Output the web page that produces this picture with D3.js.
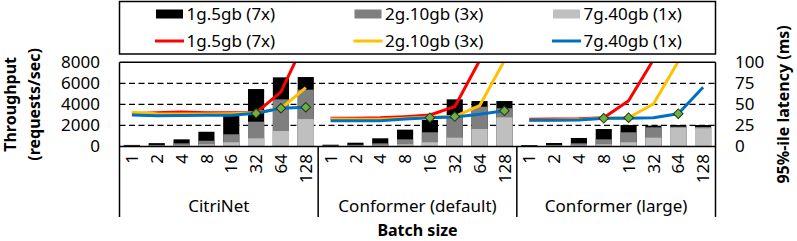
<!DOCTYPE html>
<html>
<head>
<meta charset="utf-8">
<script src="https://cdn.jsdelivr.net/npm/d3@7"></script>
<style>
  body { margin: 0; background: #fff; }
  svg text { font-family: "Noto Sans", sans-serif; fill: #000; }
</style>
</head>
<body>
<div id="chart"></div>
<script>
// data
var groups = ['CitriNet', 'Conformer (default)', 'Conformer (large)'];
var batch_sizes = ['1', '2', '4', '8', '16', '32', '64', '128'];
var series_names = ['1g.5gb (7x)', '2g.10gb (3x)', '7g.40gb (1x)'];

// throughput (requests/sec), 8 batch sizes per group, groups in order
var tput_1g = [150, 320, 680, 1400, 2900, 5460, 6570, 6600,
               170, 360, 780, 1600, 2520, 4480, 4320, 4320,
               140, 330, 810, 1660, 2040, 1980, 2040, 2040];
var tput_2g = [80, 150, 300, 550, 1160, 2360, 4480, 5400,
               90, 160, 300, 680, 1350, 3000, 3780, 3630,
               80, 150, 300, 680, 1350, 1820, 1880, 1850];
var tput_7g = [40, 60, 120, 210, 400, 780, 1470, 2610,
               40, 60, 100, 210, 400, 840, 1660, 2770,
               40, 60, 100, 210, 400, 840, 1790, 1730];

// 95%-ile latency (ms)
var lat_1g = [39, 40, 41, 40, 40, 40, 65, 127,
              33.5, 33.5, 34, 35.4, 37.4, 47.3, 102, 160,
              32.3, 32.8, 33, 34.2, 54.4, 103, 170, 240];
var lat_2g = [40.6, 39, 38.5, 38.5, 39, 40, 45, 70,
              32.7, 32.4, 32.4, 33.5, 35, 35.5, 48.5, 102,
              31.2, 31.5, 32, 33.5, 34.2, 50.5, 101, 160];
var lat_7g = [37.4, 36.5, 36.8, 37, 37, 39.4, 45.4, 46.6,
              30.7, 30.7, 30.7, 32.7, 34.2, 35, 38.2, 42.5,
              31.1, 31.1, 31.5, 33.5, 33.5, 34.2, 39, 70.3];

// marked configurations: [category index, latency]
var picks = [[5, 39.4], [6, 45.4], [7, 46.6],
             [12, 34.2], [13, 35.5], [15, 42.5],
             [19, 33.5], [20, 34.2], [22, 39]];

var bar_colors = ['#000000', '#7f7f7f', '#bfbfbf'];
var line_colors = ['#ff0000', '#ffc000', '#0070c0'];

var chart_width = 797;
var chart_height = 241;
var left = 119.5, right = 715.5, top_y = 62.3, bottom_y = 146.5;

var svg = d3.select('#chart')
    .append('svg')
    .attr('width', chart_width)
    .attr('height', chart_height);

var n_cat = groups.length * batch_sizes.length;
var x_scale = d3.scaleBand()
    .domain(d3.range(n_cat))
    .range([left, right])
    .paddingInner(0.35)
    .paddingOuter(0.175);
var bw = x_scale.bandwidth();

var y_tput = d3.scaleLinear().domain([0, 8000]).range([bottom_y, top_y]);
var y_lat = d3.scaleLinear().domain([0, 100]).range([bottom_y, top_y]);

svg.append('clipPath')
    .attr('id', 'plot-clip')
    .append('rect')
    .attr('x', left)
    .attr('y', top_y)
    .attr('width', right - left)
    .attr('height', bottom_y - top_y);

// grid lines
svg.append('g')
    .selectAll('line')
    .data([2000, 4000, 6000])
    .enter()
    .append('line')
    .attr('x1', left)
    .attr('x2', right)
    .attr('y1', function (d) { return y_tput(d); })
    .attr('y2', function (d) { return y_tput(d); })
    .attr('stroke', '#000')
    .attr('stroke-width', 1.3)
    .attr('stroke-dasharray', '6,3.5');

// bars, overlapping: widest config at back
var bar_sets = [tput_1g, tput_2g, tput_7g];
bar_sets.forEach(function (vals, s) {
    svg.append('g')
        .selectAll('rect')
        .data(vals)
        .enter()
        .append('rect')
        .attr('x', function (d, i) { return x_scale(i); })
        .attr('y', function (d) { return y_tput(d); })
        .attr('width', bw)
        .attr('height', function (d) { return bottom_y - y_tput(d); })
        .attr('fill', bar_colors[s]);
});

// latency lines, one segment per group
var line = d3.line()
    .x(function (d) { return x_scale(d[0]) + bw / 2; })
    .y(function (d) { return y_lat(d[1]); });

var lat_sets = [lat_1g, lat_2g, lat_7g];
var line_g = svg.append('g').attr('clip-path', 'url(#plot-clip)');
lat_sets.forEach(function (vals, s) {
    groups.forEach(function (g, gi) {
        var pts = [];
        for (var k = 0; k < batch_sizes.length; k++) {
            var idx = gi * batch_sizes.length + k;
            pts.push([idx, vals[idx]]);
        }
        line_g.append('path')
            .attr('d', line(pts))
            .attr('fill', 'none')
            .attr('stroke', line_colors[s])
            .attr('stroke-width', 3)
            .attr('stroke-linejoin', 'round');
    });
});

// diamonds
var diamond = d3.symbol().type(d3.symbolSquare).size(46);
svg.append('g')
    .selectAll('path')
    .data(picks)
    .enter()
    .append('path')
    .attr('d', diamond)
    .attr('transform', function (d) {
        return 'translate(' + (x_scale(d[0]) + bw / 2) + ',' + y_lat(d[1]) + ') rotate(45)';
    })
    .attr('fill', '#70ad47')
    .attr('stroke', '#1e3a10')
    .attr('stroke-width', 1);

// frame
var frame = svg.append('g').attr('stroke', '#000').attr('stroke-width', 1.5);
frame.append('line').attr('x1', left).attr('x2', right).attr('y1', top_y).attr('y2', top_y);
frame.append('line').attr('x1', left).attr('x2', right).attr('y1', bottom_y).attr('y2', bottom_y);
var sep_x = [left, left + (right - left) / 3, left + 2 * (right - left) / 3, right];
sep_x.forEach(function (sx, i) {
    frame.append('line')
        .attr('x1', sx).attr('x2', sx)
        .attr('y1', (i === 0 || i === 3) ? top_y : bottom_y)
        .attr('y2', 217);
});

// y axes
var y_axis_left = d3.axisLeft(y_tput)
    .tickValues([0, 2000, 4000, 6000, 8000])
    .tickFormat(d3.format('d'))
    .tickSize(0)
    .tickPadding(19.5);
svg.append('g')
    .attr('class', 'y-axis')
    .attr('transform', 'translate(' + left + ',0)')
    .call(y_axis_left);

var y_axis_right = d3.axisRight(y_lat)
    .tickValues([0, 25, 50, 75, 100])
    .tickSize(0)
    .tickPadding(19.5);
svg.append('g')
    .attr('class', 'y-axis')
    .attr('transform', 'translate(' + right + ',0)')
    .call(y_axis_right);

svg.selectAll('.y-axis .domain').remove();
svg.selectAll('.y-axis text')
    .style('font-size', '17px')
    .style('font-family', '"Noto Sans", sans-serif');

// x axis: batch sizes rotated
var x_axis = d3.axisBottom(x_scale)
    .tickSize(0)
    .tickFormat(function (i) { return batch_sizes[i % batch_sizes.length]; });
var xg = svg.append('g')
    .attr('class', 'x-axis')
    .attr('transform', 'translate(0,' + bottom_y + ')')
    .call(x_axis);
xg.select('.domain').remove();
xg.selectAll('text')
    .attr('transform', 'rotate(-90)')
    .attr('x', -7.5)
    .attr('y', 0)
    .attr('dy', '0.36em')
    .style('text-anchor', 'end')
    .style('font-size', '17px')
    .style('font-family', '"Noto Sans", sans-serif');

// group labels
svg.append('g')
    .selectAll('text')
    .data(groups)
    .enter()
    .append('text')
    .attr('x', function (d, i) { return x_scale(i * 8) - x_scale.step() * 0.175 + (right - left) / 6; })
    .attr('y', 212)
    .attr('text-anchor', 'middle')
    .style('font-size', '17px')
    .text(function (d) { return d; });

// axis titles
svg.append('text')
    .attr('x', (left + right) / 2)
    .attr('y', 236)
    .attr('text-anchor', 'middle')
    .style('font-size', '16px')
    .style('font-weight', 'bold')
    .text('Batch size');

svg.append('text')
    .attr('transform', 'translate(15.5,' + (top_y + bottom_y) / 2 + ') rotate(-90)')
    .attr('text-anchor', 'middle')
    .style('font-size', '16px')
    .style('font-weight', 'bold')
    .text('Throughput');
svg.append('text')
    .attr('transform', 'translate(39.5,' + (top_y + bottom_y) / 2 + ') rotate(-90)')
    .attr('text-anchor', 'middle')
    .style('font-size', '16px')
    .style('font-weight', 'bold')
    .text('(requests/sec)');

svg.append('text')
    .attr('transform', 'translate(789,' + (top_y + bottom_y) / 2 + ') rotate(-90)')
    .attr('text-anchor', 'middle')
    .style('font-size', '16px')
    .style('font-weight', 'bold')
    .text('95%-ile latency (ms)');

// legend
var legend = svg.append('g');
legend.append('rect')
    .attr('x', 119.5)
    .attr('y', 1.5)
    .attr('width', 596)
    .attr('height', 52.5)
    .attr('fill', '#fff')
    .attr('stroke', '#000')
    .attr('stroke-width', 1.5);

var col_x = [156, 354.5, 553];
series_names.forEach(function (name, i) {
    legend.append('rect')
        .attr('x', col_x[i])
        .attr('y', 9.5)
        .attr('width', 27)
        .attr('height', 9)
        .attr('fill', bar_colors[i]);
    legend.append('text')
        .attr('x', col_x[i] + 30.5)
        .attr('y', 19.5)
        .style('font-size', '17px')
        .text(name);
    legend.append('line')
        .attr('x1', col_x[i] - 1)
        .attr('x2', col_x[i] + 28)
        .attr('y1', 41)
        .attr('y2', 41)
        .attr('stroke', line_colors[i])
        .attr('stroke-width', 3);
    legend.append('text')
        .attr('x', col_x[i] + 30.5)
        .attr('y', 46.5)
        .style('font-size', '17px')
        .text(name);
});
</script>
</body>
</html>
